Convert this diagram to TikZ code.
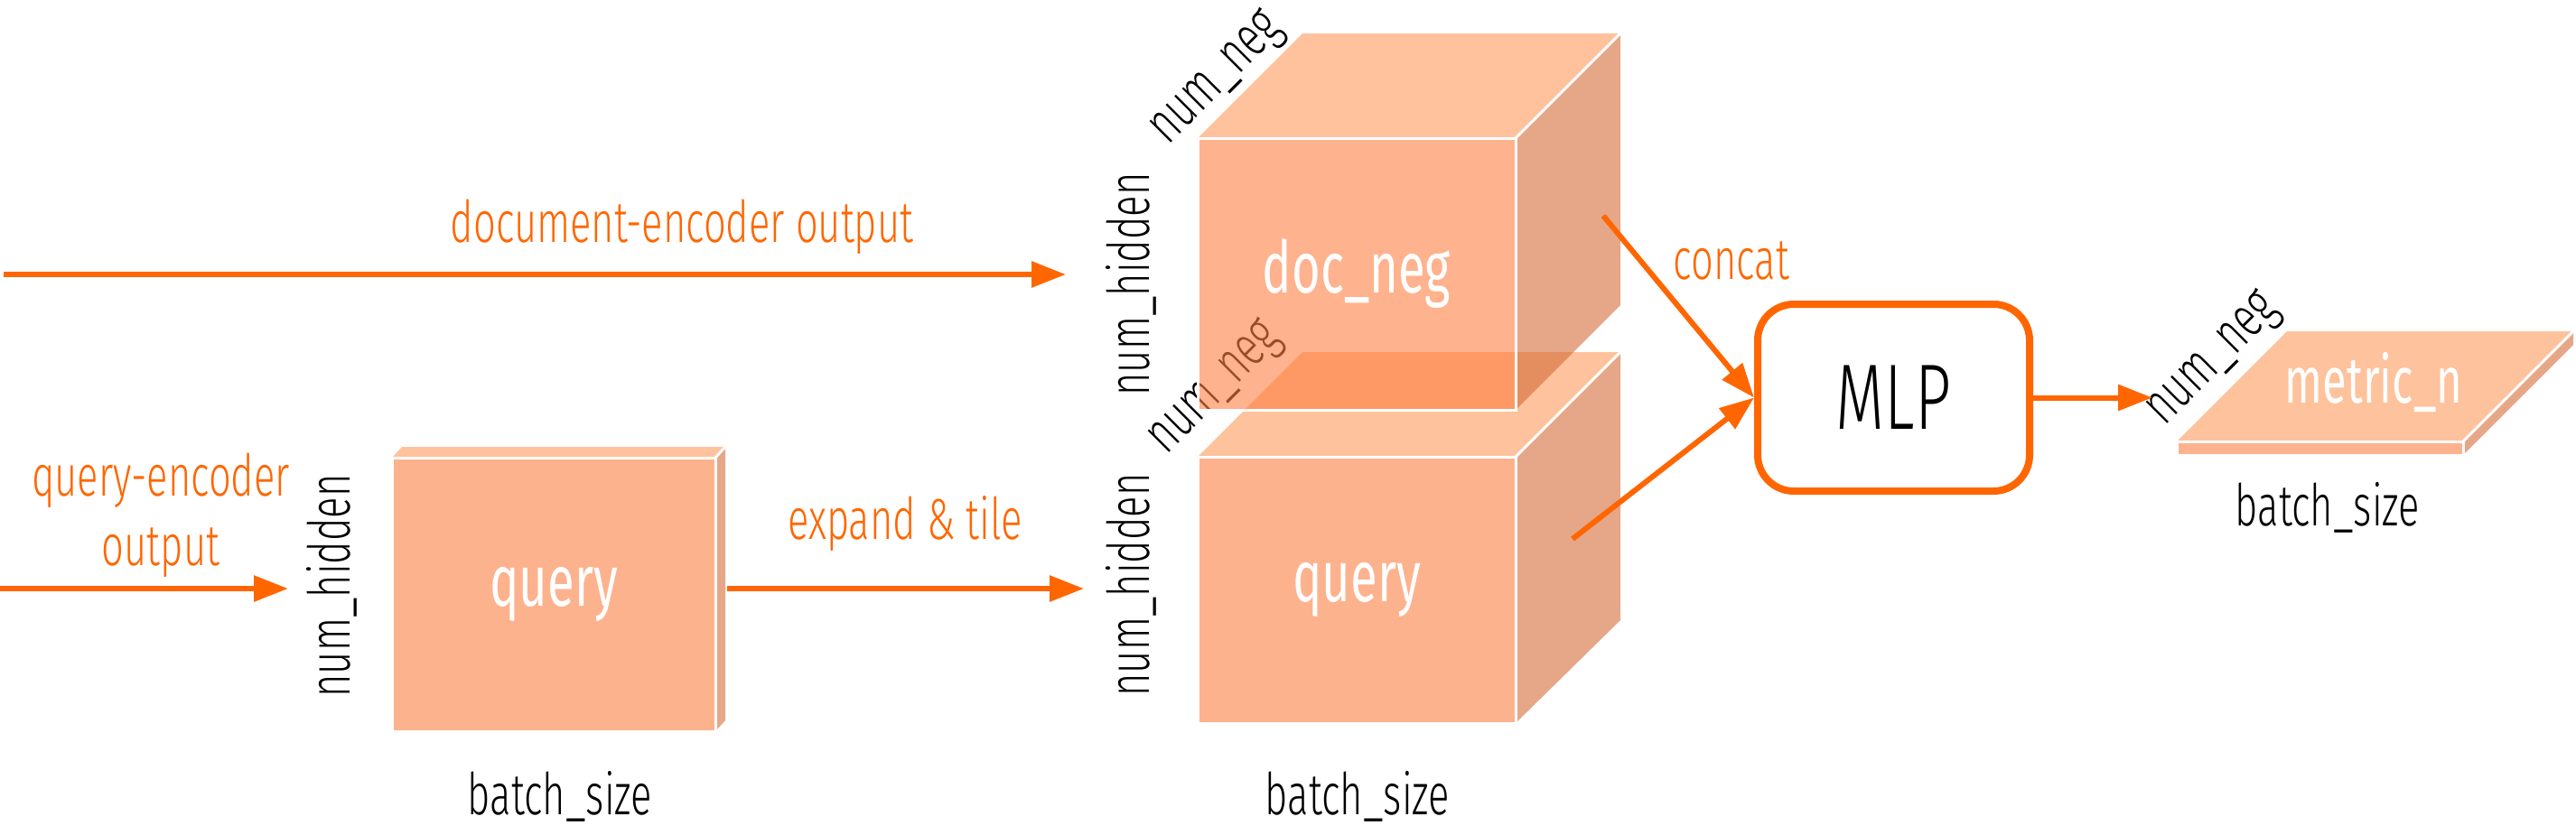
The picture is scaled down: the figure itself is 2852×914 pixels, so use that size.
\documentclass[tikz,border=0pt]{standalone}
\usepackage{fontspec}
\setmainfont{Fira Sans Light}[FakeStretch=0.68]
\newfontfamily\whitefont{Fira Sans}[FakeStretch=0.68]
\usetikzlibrary{arrows.meta}
\definecolor{acc}{RGB}{255,102,0}
\definecolor{frontc}{RGB}{253,178,142}
\definecolor{topc}{RGB}{254,194,156}
\definecolor{sidec}{RGB}{229,167,136}
\definecolor{dfront}{RGB}{255,127,67}
\definecolor{dtop}{RGB}{255,153,90}
\definecolor{dside}{RGB}{212,108,57}
\begin{document}
\begin{tikzpicture}[x=1pt,y=-1pt,
  lab/.style={font=\fontsize{64}{77}\selectfont, inner sep=0pt, text=black},
  olab/.style={lab, text=acc, align=center},
  wlab/.style={font=\whitefont\fontsize{80}{90}\selectfont, text=white},
  whiteedge/.style={draw=white, line width=3pt},
  face/.style={inner sep=0pt, outer sep=0pt, draw=white, line width=3pt, anchor=north west},
  conn/.style={draw=acc, line width=6pt, -{Triangle[length=38pt,width=28pt]}},
]
\useasboundingbox (0,0) rectangle (2852,914);

% ---------- small query slab ----------
\fill[topc] (434,507) -- (792,507) -- (803,495) -- (445,495) -- cycle;
\fill[sidec] (792,507) -- (803,495) -- (803,798) -- (792,810) -- cycle;
\draw[whiteedge] (792,507) -- (803,495);
\node[face, fill=frontc, minimum width=358pt, minimum height=303pt, wlab] (sq) at (434,507) {query};
\node[lab, rotate=90] (sqh) at (367,649) {num\_hidden};
\node[lab] (sqb) at (620,882) {batch\_size};

% ---------- big query cube ----------
\fill[topc] (1326,506) -- (1678,506) -- (1794,390) -- (1442,390) -- cycle;
\fill[sidec] (1678,506) -- (1794,390) -- (1794,687) -- (1678,801) -- cycle;
\draw[whiteedge] (1678,506) -- (1794,390);
\node[face, fill=frontc, minimum width=352pt, minimum height=295pt, wlab] (bq) at (1326,506) {query};
\node[lab, rotate=45] (bqn) at (1347,432) {num\_neg};
\node[lab, rotate=90] (bqh) at (1252,648) {num\_hidden};
\node[lab] (bqb) at (1503,882) {batch\_size};

% ---------- doc_neg cube (translucent) ----------
\fill[dtop, fill opacity=0.6] (1326,153) -- (1678,153) -- (1794,37) -- (1442,37) -- cycle;
\fill[dside, fill opacity=0.6] (1678,153) -- (1794,37) -- (1794,338) -- (1678,454) -- cycle;
\draw[whiteedge] (1678,153) -- (1794,37);
\node[face, fill=dfront, fill opacity=0.6, text opacity=1, minimum width=352pt, minimum height=301pt, wlab] (dn) at (1326,153) {doc\_neg};
\node[lab, rotate=45] (dnn) at (1349,89) {num\_neg};
\node[lab, rotate=90] (dnh) at (1252,315) {num\_hidden};

% ---------- metric_n slab ----------
\fill[topc] (2410,489) -- (2727,489) -- (2849,367) -- (2532,367) -- cycle;
\fill[sidec] (2727,489) -- (2849,367) -- (2849,382) -- (2727,504) -- cycle;
\draw[whiteedge] (2727,489) -- (2849,367);
\node[face, fill=frontc, minimum width=317pt, minimum height=15pt] (mf) at (2410,489) {};
\node[wlab, font=\whitefont\fontsize{72}{80}\selectfont] (mt) at (2628,424) {metric\_n};
\node[lab, rotate=45] (mn) at (2452,400) {num\_neg};
\node[lab] (mb) at (2577,562) {batch\_size};

% ---------- MLP ----------
\node[draw=acc, line width=8pt, rounded corners=40pt, minimum width=301pt, minimum height=207pt,
      font=\fontsize{103}{110}\selectfont] (mlp) at (2096.5,440.5) {MLP};

% ---------- connectors ----------
\coordinate (docsrc) at (4,304);
\coordinate (docdst) at (1180,304);
\coordinate (qsrc) at (0,652);
\coordinate (qdst) at (319,652);
\coordinate (expsrc) at (805,652);
\coordinate (expdst) at (1200,652);
\coordinate (csrc1) at (1775,239);
\coordinate (csrc2) at (1741,597);
\coordinate (outdst) at (2383,440.5);

\draw[conn] (docsrc) -- (docdst);
\draw[conn] (qsrc) -- (qdst);
\draw[conn] (expsrc) -- (expdst);
\draw[conn] (csrc1) -- (mlp.west);
\draw[conn] (csrc2) -- (mlp.west);
\draw[conn] (mlp.east) -- (outdst);

% ---------- connector labels ----------
\node[olab] (ldoc) at (755,251) {document-encoder output};
\node[olab] (lq) at (178,571) {query-encoder\\output};
\node[olab] (lexp) at (1002,580) {expand \& tile};
\node[olab] (lcat) at (1917,289) {concat};
\end{tikzpicture}
\end{document}
